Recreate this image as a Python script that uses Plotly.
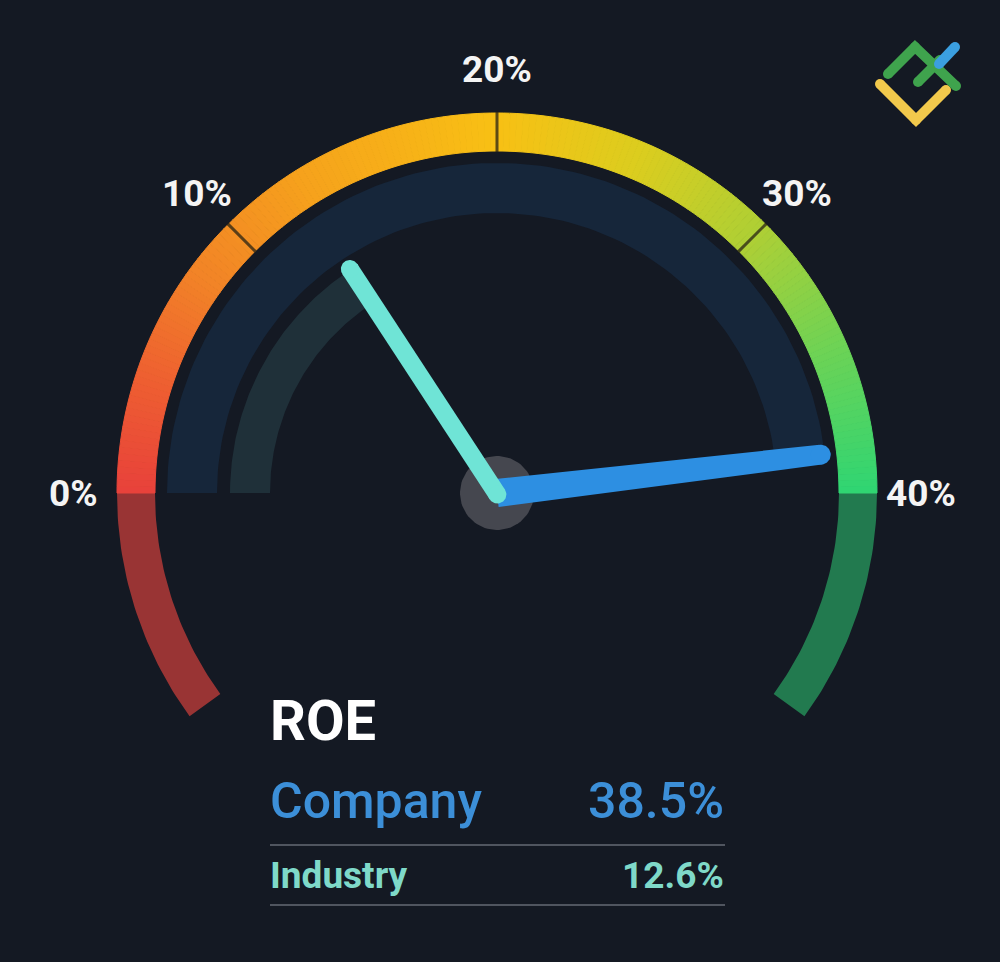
import numpy as np
import plotly.graph_objects as go

# ---------------- data ----------------
scale_min = 0
scale_max = 40
tick_values = [0, 10, 20, 30, 40]
tick_labels = ["0%", "10%", "20%", "30%", "40%"]
metric_name = "ROE"
series_names = ["Company", "Industry"]
series_values = [38.5, 12.6]

# ---------------- style ----------------
W, H = 1000, 962
BG = "#141923"
CX, CY = 497, 493
R_OUT, R_IN = 380, 342
NAVY_OUT, NAVY_IN = 330, 280
TEAL_OUT, TEAL_IN = 267, 227
LABEL_R = 424
EXT_DEG = 36
grad_pos = [0, 4, 8, 13, 20, 25, 30, 35, 40]
grad_col = ["#e8413b", "#ee5f31", "#f28327", "#f6a21c", "#f8c014",
            "#dccd1e", "#aecf35", "#6bd356", "#2fd573"]


def ang(v):
    return np.pi * (1 - (v - scale_min) / (scale_max - scale_min))


def hex2rgb(h):
    h = h.lstrip("#")
    return np.array([int(h[i:i + 2], 16) for i in (0, 2, 4)], dtype=float)


def grad_color(v):
    for i in range(len(grad_pos) - 1):
        if grad_pos[i] <= v <= grad_pos[i + 1]:
            t = (v - grad_pos[i]) / (grad_pos[i + 1] - grad_pos[i])
            c = hex2rgb(grad_col[i]) * (1 - t) + hex2rgb(grad_col[i + 1]) * t
            return "rgb(%d,%d,%d)" % tuple(np.round(c))
    return grad_col[-1]


def ring(t1, t2, r_in, r_out, n=40):
    th = np.linspace(t1, t2, n)
    xs = np.concatenate([CX + r_out * np.cos(th), CX + r_in * np.cos(th[::-1])])
    ys = np.concatenate([CY - r_out * np.sin(th), CY - r_in * np.sin(th[::-1])])
    return np.append(xs, xs[0]), np.append(ys, ys[0])


fig = go.Figure()


def poly(xs, ys, color, lw=0):
    fig.add_trace(go.Scatter(x=xs, y=ys, mode="lines", fill="toself",
                             fillcolor=color,
                             line=dict(color=color, width=lw),
                             hoverinfo="skip", showlegend=False))


# lower extension arcs
ext = np.deg2rad(EXT_DEG)
xs, ys = ring(np.pi, np.pi + ext, R_IN, R_OUT)
poly(xs, ys, "#993434")
xs, ys = ring(-ext, 0, R_IN, R_OUT)
poly(xs, ys, "#227a4f")

# gradient main arc
N = 180
edges = np.linspace(scale_min, scale_max, N + 1)
for i in range(N):
    v0, v1 = edges[i], edges[i + 1]
    c = grad_color((v0 + v1) / 2)
    xs, ys = ring(ang(v0), ang(v1), R_IN, R_OUT, n=3)
    poly(xs, ys, c, lw=1)

# tick separators
for tv in tick_values[1:-1]:
    a = ang(tv)
    fig.add_trace(go.Scatter(
        x=[CX + (R_IN - 1) * np.cos(a), CX + (R_OUT + 1) * np.cos(a)],
        y=[CY - (R_IN - 1) * np.sin(a), CY - (R_OUT + 1) * np.sin(a)],
        mode="lines", line=dict(color="rgba(40,35,20,0.75)", width=3),
        hoverinfo="skip", showlegend=False))

# tracks
company_val, industry_val = series_values
xs, ys = ring(ang(company_val), ang(scale_min), NAVY_IN, NAVY_OUT, n=120)
poly(xs, ys, "#16263a")
xs, ys = ring(ang(industry_val), ang(scale_min), TEAL_IN, TEAL_OUT, n=80)
poly(xs, ys, "#1f3039")

# center hub
th = np.linspace(0, 2 * np.pi, 80)
poly(CX + 37 * np.cos(th), CY - 37 * np.sin(th), "#45474f")

# company needle (tapered, round tip)
a = ang(company_val)
L = 326
ux, uy = np.cos(a), -np.sin(a)
px, py = -uy, ux
w0, w1 = 14, 10
tipx, tipy = CX + L * ux, CY + L * uy
xs = [CX + w0 * px, tipx + w1 * px, tipx - w1 * px, CX - w0 * px, CX + w0 * px]
ys = [CY + w0 * py, tipy + w1 * py, tipy - w1 * py, CY - w0 * py, CY + w0 * py]
poly(np.array(xs), np.array(ys), "#2d8fe2")
poly(tipx + w1 * np.cos(th), tipy + w1 * np.sin(th), "#2d8fe2")

# industry needle
a = ang(industry_val)
L2 = 268
ux, uy = np.cos(a), -np.sin(a)
px, py = -uy, ux
w = 9
sx, sy = CX + 3 * ux + 2, CY + 3 * uy + 4
tipx, tipy = CX + L2 * ux, CY + L2 * uy
xs = [sx + w * px, tipx + w * px, tipx - w * px, sx - w * px, sx + w * px]
ys = [sy + w * py, tipy + w * py, tipy - w * py, sy - w * py, sy + w * py]
poly(np.array(xs), np.array(ys), "#6fe4d6")
poly(tipx + w * np.cos(th), tipy + w * np.sin(th), "#6fe4d6")
poly(sx + w * np.cos(th), sy + w * np.sin(th), "#6fe4d6")

# logo (top right)
logo = [
    ([880, 916, 946], [84, 120, 90], "#f2c94c"),
    ([888, 915, 956], [74, 47, 86], "#3fa34d"),
    ([918, 940], [82, 60], "#3fa34d"),
    ([939, 955], [64, 47], "#3b9fe0"),
]
for lx, ly, lc in logo:
    fig.add_trace(go.Scatter(x=lx, y=ly, mode="lines+markers",
                             line=dict(color=lc, width=10),
                             marker=dict(color=lc, size=10),
                             hoverinfo="skip", showlegend=False))

annotations = []
for tv, tl in zip(tick_values, tick_labels):
    a = ang(tv)
    annotations.append(dict(x=CX + LABEL_R * np.cos(a), y=CY - LABEL_R * np.sin(a),
                            text=tl, showarrow=False, xanchor="center", yanchor="middle",
                            font=dict(family="Roboto", size=37, color="#f4f4f4", weight="bold")))

annotations.append(dict(x=268, y=721, text=metric_name, showarrow=False,
                        xanchor="left", yanchor="middle",
                        font=dict(family="Roboto", size=56, color="#ffffff", weight="bold")))
annotations.append(dict(x=268, y=801, text=series_names[0], showarrow=False,
                        xanchor="left", yanchor="middle",
                        font=dict(family="Roboto", size=50, color="#3c8fd8", weight=500)))
annotations.append(dict(x=726, y=801, text="%.1f%%" % company_val, showarrow=False,
                        xanchor="right", yanchor="middle",
                        font=dict(family="Roboto", size=50, color="#3c8fd8", weight=500)))
annotations.append(dict(x=268, y=875, text=series_names[1], showarrow=False,
                        xanchor="left", yanchor="middle",
                        font=dict(family="Roboto", size=37, color="#7fd9c9", weight="bold")))
annotations.append(dict(x=726, y=875, text="%.1f%%" % industry_val, showarrow=False,
                        xanchor="right", yanchor="middle",
                        font=dict(family="Roboto", size=37, color="#7fd9c9", weight="bold")))

shapes = [
    dict(type="line", x0=270, x1=725, y0=845, y1=845, line=dict(color="#50555f", width=2), layer="below"),
    dict(type="line", x0=270, x1=725, y0=905, y1=905, line=dict(color="#50555f", width=2), layer="below"),
]

fig.update_layout(
    width=W, height=H,
    margin=dict(l=0, r=0, t=0, b=0),
    paper_bgcolor=BG, plot_bgcolor=BG,
    xaxis=dict(range=[0, W], visible=False, fixedrange=True),
    yaxis=dict(range=[H, 0], visible=False, fixedrange=True),
    annotations=annotations, shapes=shapes,
    showlegend=False,
)

fig.write_html(
    "out.html",
    config={"displayModeBar": False},
    post_script="document.body.style.margin='0';document.body.style.background='%s';"
                "document.body.style.overflow='hidden';" % BG,
)
